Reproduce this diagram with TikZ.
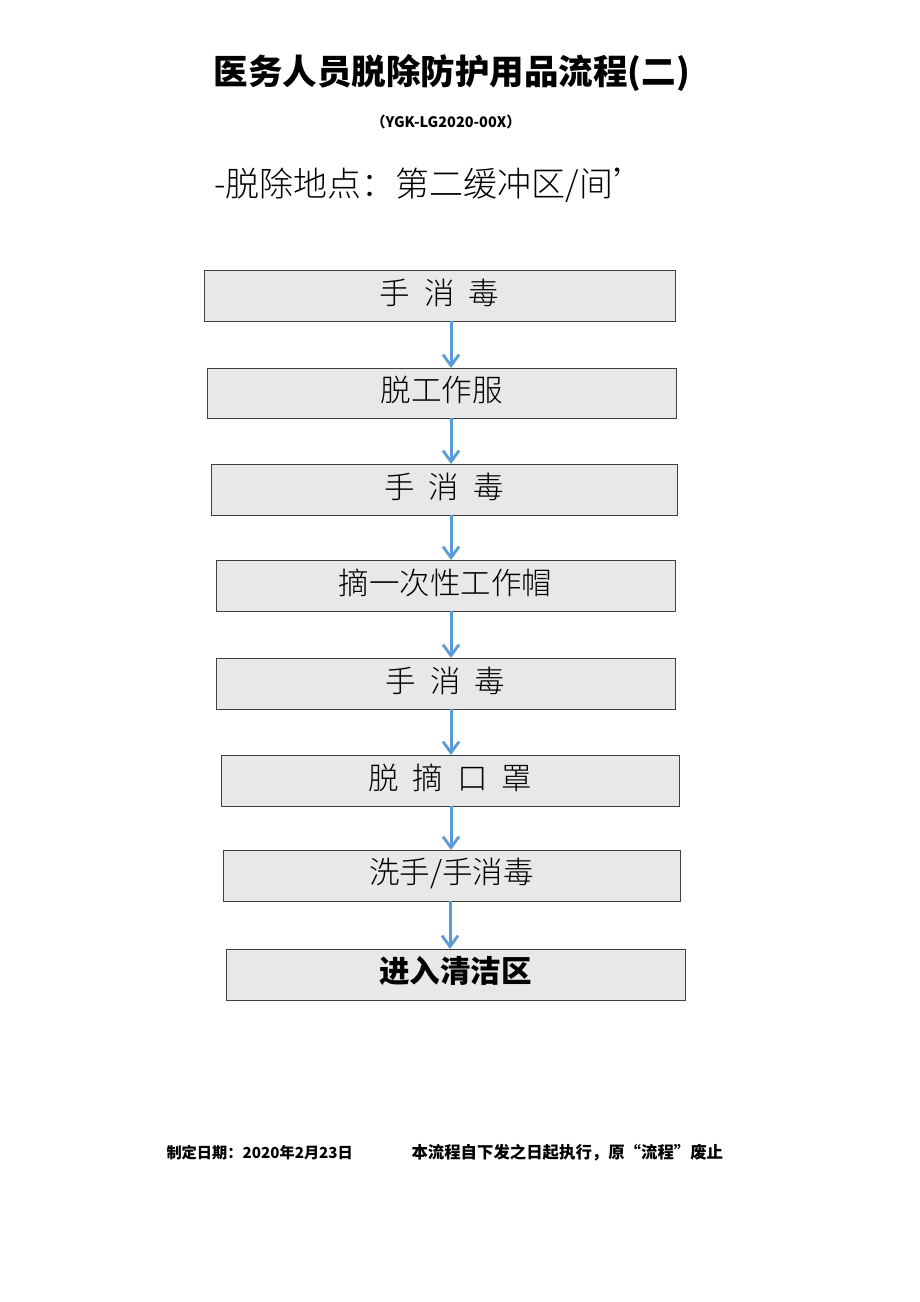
\documentclass[tikz,border=0pt]{standalone}
\usepackage{fontspec}
\usetikzlibrary{arrows.meta}
\newfontfamily\cjk{Noto Sans CJK SC}
\newfontfamily\cjklight{Noto Sans CJK SC Light}
\setmainfont{Liberation Sans}
\definecolor{arrowblue}{RGB}{91,155,213}
\definecolor{boxgray}{RGB}{232,232,232}
\newcommand{\gp}{\hspace{14pt}}
\tikzset{
  stepbox/.style={draw=black!75, line width=1pt, fill=boxgray, inner sep=0pt},
  boxtext/.style={font=\cjklight\fontsize{30.5}{33}\selectfont, anchor=center},
  flowarrow/.style={draw=arrowblue, line width=3pt, -{Straight Barb[length=11pt,width=16pt,line width=2.8pt]}},
}
\begin{document}
\begin{tikzpicture}[x=1pt,y=-1pt]
\useasboundingbox (0,0) rectangle (920,1302);
\node (title) at (452,73) {\cjk\bfseries\fontsize{34.5}{37}\selectfont 医务人员脱除防护用品流程(二)};
\node (code) at (446,122) {\cjk\bfseries\fontsize{14.5}{16}\selectfont （YGK-LG2020-00X）};
\node[anchor=west] (place) at (211,185) {\cjklight\fontsize{34}{37}\selectfont -脱除地点：第二缓冲区/间’};

\path[stepbox] (204,270) rectangle (675,321);
\node[boxtext] (b1) at (439.5,293) {手\gp 消\gp 毒};
\path[stepbox] (207,368) rectangle (676,418);
\node[boxtext] (b2) at (441.5,390) {脱工作服};
\path[stepbox] (211,464) rectangle (677,515);
\node[boxtext] (b3) at (444,487) {手\gp 消\gp 毒};
\path[stepbox] (216,560) rectangle (675,611);
\node[boxtext] (b4) at (445.5,583) {摘一次性工作帽};
\path[stepbox] (216,658) rectangle (675,709);
\node[boxtext] (b5) at (445.5,681) {手\gp 消\gp 毒};
\path[stepbox] (221,755) rectangle (679,806);
\node[boxtext] (b6) at (450,778) {脱\gp 摘\gp 口\gp 罩};
\path[stepbox] (223,850) rectangle (680,901);
\node[boxtext] (b7) at (451.5,873) {洗手/手消毒};
\path[stepbox] (226,949) rectangle (685,1000);
\node[boxtext, font=\cjk\bfseries\fontsize{30.5}{33}\selectfont] (b8) at (455.5,971) {进入清洁区};

\coordinate (a1s) at (451,321); \coordinate (a1e) at (451,368);
\coordinate (a2s) at (451,418); \coordinate (a2e) at (451,464);
\coordinate (a3s) at (451,515); \coordinate (a3e) at (451,560);
\coordinate (a4s) at (451,611); \coordinate (a4e) at (451,658);
\coordinate (a5s) at (451,709); \coordinate (a5e) at (451,755);
\coordinate (a6s) at (451,806); \coordinate (a6e) at (451,850);
\coordinate (a7s) at (450,901); \coordinate (a7e) at (450,949);
\foreach \i in {1,...,7} { \draw[flowarrow] (a\i s) -- (a\i e); }

\node[anchor=west] (date) at (163,1153) {\cjk\bfseries\fontsize{15.2}{17}\selectfont 制定日期：2020年2月23日};
\node[anchor=west] (note) at (408,1153) {\cjk\bfseries\fontsize{16.4}{18}\selectfont 本流程自下发之日起执行，原“流程”废止};
\end{tikzpicture}
\end{document}
